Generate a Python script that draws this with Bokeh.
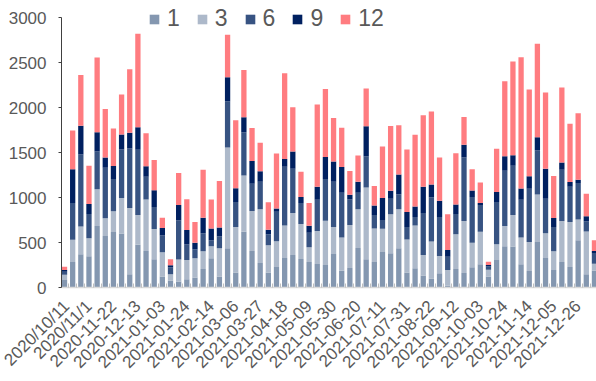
import math
from bokeh.plotting import figure
from bokeh.models import ColumnDataSource, FixedTicker, Range1d
from bokeh.embed import file_html
from bokeh.resources import INLINE

dates = [
    "2020/10/11", "2020/10/18", "2020/10/25", "2020/11/1", "2020/11/8", "2020/11/15",
    "2020-11-22", "2020-11-29", "2020-12-06", "2020-12-13", "2020-12-20", "2020-12-27",
    "2021-01-03", "2021-01-10", "2021-01-17", "2021-01-24", "2021-01-31", "2021-02-07",
    "2021-02-14", "2021-02-21", "2021-02-28", "2021-03-06", "2021-03-13", "2021-03-20",
    "2021-03-27", "2021-04-04", "2021-04-11", "2021-04-18", "2021-04-25", "2021-05-02",
    "2021-05-09", "2021-05-16", "2021-05-23", "2021-05-30", "2021-06-06", "2021-06-13",
    "2021-06-20", "2021-06-27", "2021-07-04", "2021-07-11", "2021-07-18", "2021-07-25",
    "2021-07-31", "2021-08-08", "2021-08-15", "2021-08-22", "2021-08-29", "2021-09-05",
    "2021-09-12", "2021-09-19", "2021-09-26", "2021-10-03", "2021-10-10", "2021-10-17",
    "2021-10-24", "2021-10-31", "2021-11-07", "2021-11-14", "2021-11-21", "2021-11-28",
    "2021-12-05", "2021-12-12", "2021-12-19", "2021-12-26", "2022-01-02", "2022-01-09",
]

s1 = [82, 284, 369, 347, 683, 571, 616, 601, 146, 474, 407, 313, 123, 78, 67, 93, 112,
      205, 325, 123, 437, 168, 619, 407, 272, 168, 228, 328, 362, 317, 284, 261, 250,
      373, 187, 216, 440, 313, 284, 395, 381, 437, 168, 213, 134, 101, 157, 19, 205, 160,
      224, 257, 123, 306, 459, 455, 257, 183, 507, 328, 194, 284, 228, 526, 146, 190]
s3 = [60, 246, 310, 201, 410, 198, 231, 395, 738, 332, 571, 336, 269, 68, 243, 213, 213,
      198, 134, 314, 1119, 504, 627, 444, 597, 302, 287, 362, 466, 388, 164, 366, 492,
      299, 369, 478, 429, 799, 373, 258, 432, 432, 366, 477, 228, 410, 194, 175, 388, 579,
      272, 362, 75, 175, 224, 351, 299, 324, 527, 276, 209, 455, 500, 231, 477, 75]
s6 = [33, 410, 798, 269, 418, 563, 358, 537, 661, 724, 253, 246, 186, 78, 436, 172, 97,
      201, 67, 130, 515, 279, 478, 302, 306, 123, 328, 653, 493, 235, 160, 347, 463,
      503, 496, 284, 183, 343, 149, 97, 172, 168, 138, 94, 466, 493, 433, 149, 224, 705,
      511, 299, 37, 470, 615, 548, 418, 590, 488, 381, 269, 571, 391, 403, 112, 119]
s9 = [19, 373, 321, 112, 213, 112, 146, 168, 175, 250, 116, 187, 82, 22, 172, 160, 74,
      172, 131, 101, 265, 153, 168, 254, 116, 49, 34, 86, 190, 67, 78, 145, 246,
      224, 287, 52, 123, 336, 104, 246, 90, 220, 167, 115, 291, 141, 179, 75, 105, 142,
      71, 22, 15, 109, 161, 116, 127, 138, 149, 336, 100, 78, 53, 38, 56, 23]
s12 = [37, 433, 564, 425, 832, 541, 417, 444, 705, 1040, 366, 336, 116, 67, 354, 343, 232,
       534, 321, 515, 473, 754, 526, 365, 317, 306, 612, 951, 492, 280, 254, 914, 754,
       485, 437, 265, 291, 421, 217, 571, 720, 545, 694, 799, 795, 810, 481, 395, 570, 309,
       235, 228, 37, 481, 832, 1041, 1458, 966, 1038, 847, 467, 836, 649, 738, 250, 119]

series = ["1", "3", "6", "9", "12"]
colors = ["#8497B0", "#ADB9CA", "#375382", "#002060", "#FF7C80"]
y_ticks = [0, 500, 1000, 1500, 2000, 2500, 3000]

x = list(range(len(dates)))
src = ColumnDataSource(dict(x=x, s1=s1, s3=s3, s6=s6, s9=s9, s12=s12))

FONT = "Liberation Sans"
GRAY = "#595959"

p = figure(width=596, height=381, output_backend="svg", toolbar_location=None,
           x_range=Range1d(-0.37, 65.25), y_range=Range1d(0, 3134),
           min_border_left=61, min_border_right=0, min_border_top=5, min_border_bottom=94)

p.vbar_stack(["s1", "s3", "s6", "s9", "s12"], x="x", width=0.65, color=colors,
             source=src, legend_label=series, line_width=0)

p.xgrid.visible = False
p.ygrid.visible = False
p.outline_line_color = None

# y axis
p.yaxis.ticker = FixedTicker(ticks=y_ticks)
p.yaxis.bounds = (y_ticks[0], y_ticks[-1])
p.yaxis.major_label_text_font = FONT
p.yaxis.major_label_text_font_size = "17px"
p.yaxis.major_label_text_color = GRAY
p.yaxis.axis_line_color = "#404040"
p.yaxis.major_tick_line_color = "#404040"
p.yaxis.major_tick_out = 3
p.yaxis.major_tick_in = 0
p.yaxis.minor_tick_line_color = None
p.yaxis.major_label_standoff = 12

# x axis
tick_idx = list(range(0, len(dates), 3))
p.xaxis.ticker = FixedTicker(ticks=tick_idx, minor_ticks=[i - 0.5 for i in range(len(dates) + 1)])
p.xaxis.major_label_overrides = {i: dates[i] for i in tick_idx}
p.xaxis.major_label_orientation = math.pi / 4
p.xaxis.major_label_text_font = FONT
p.xaxis.major_label_text_font_size = "17px"
p.xaxis.major_label_text_color = GRAY
p.xaxis.axis_line_color = "#D9D9D9"
p.xaxis.axis_line_width = 1.5
p.xaxis.major_tick_line_color = None
p.xaxis.minor_tick_line_color = "#BFBFBF"
p.xaxis.minor_tick_in = 4
p.xaxis.minor_tick_out = 0
p.xaxis.major_label_standoff = 10

# legend
lg = p.legend[0]
lg.orientation = "horizontal"
lg.location = (87, 255)
lg.padding = 0
lg.margin = 0
lg.spacing = 16
lg.glyph_width = 12
lg.glyph_height = 12
lg.label_width = 0
lg.label_standoff = 7
lg.label_text_font = FONT
lg.label_text_font_size = "23px"
lg.label_text_color = GRAY
lg.border_line_alpha = 0
lg.background_fill_alpha = 0

open("out.html", "w").write(file_html(p, INLINE))
